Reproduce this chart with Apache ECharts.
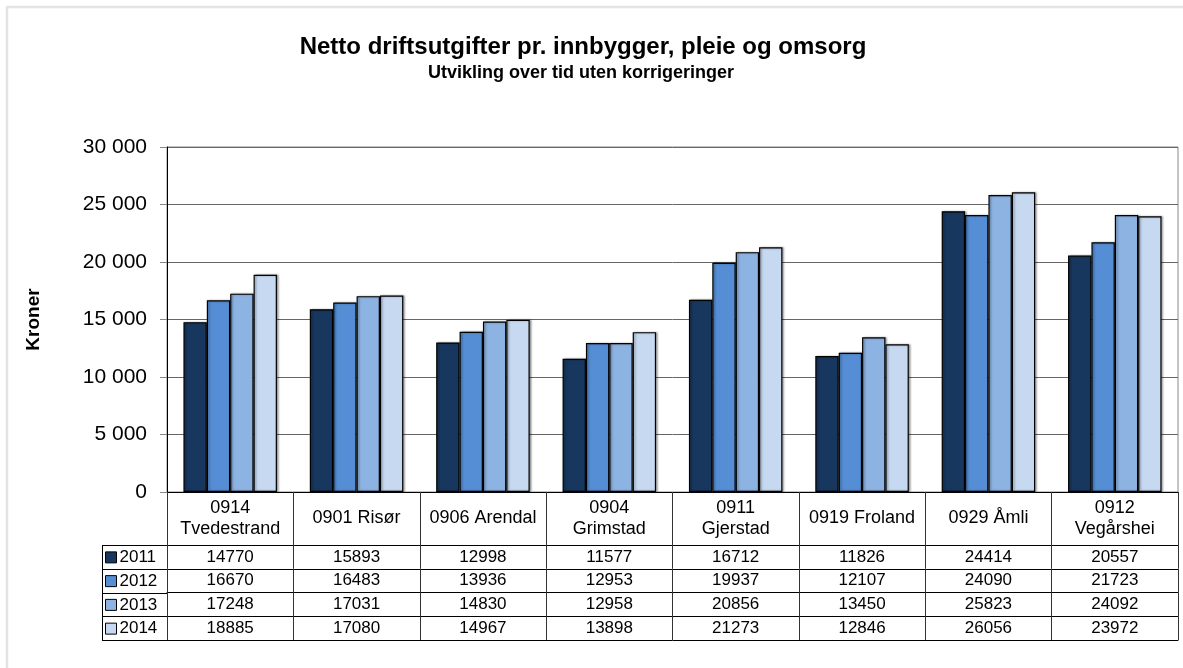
<!DOCTYPE html>
<html>
<head>
<meta charset="utf-8">
<script src="https://cdn.jsdelivr.net/npm/echarts@6/dist/echarts.min.js"></script>
<style>
html,body{margin:0;padding:0;background:#fff;}
#chart{width:1183px;height:668px;}
</style>
</head>
<body>
<div id="chart"></div>
<script>
// ---- data ----
const categories = ['0914\nTvedestrand', '0901 Risør', '0906 Arendal', '0904\nGrimstad', '0911\nGjerstad', '0919 Froland', '0929 Åmli', '0912\nVegårshei'];
const years = ['2011', '2012', '2013', '2014'];
const values2011 = [14770, 15893, 12998, 11577, 16712, 11826, 24414, 20557];
const values2012 = [16670, 16483, 13936, 12953, 19937, 12107, 24090, 21723];
const values2013 = [17248, 17031, 14830, 12958, 20856, 13450, 25823, 24092];
const values2014 = [18885, 17080, 14967, 13898, 21273, 12846, 26056, 23972];
const yTicks = [0, 5000, 10000, 15000, 20000, 25000, 30000];
const seriesValues = [values2011, values2012, values2013, values2014];
const colors = ['#17375E', '#558ED5', '#8DB3E2', '#C6D9F1'];

const FONT = 'Liberation Sans';
const gridLeft = 167, gridRight = 1178, gridTop = 147, gridBottom = 492;
const headerH = 53, rowH = 23.75;

function fmt(v) { return String(v).replace(/\B(?=(\d{3})+(?!\d))/g, ' '); }

const chart = echarts.init(document.getElementById('chart'), null, {renderer: 'canvas'});

const xAxes = [{
  type: 'category',
  data: categories,
  gridIndex: 0,
  position: 'bottom',
  boundaryGap: true,
  axisLine: {show: true, lineStyle: {color: '#000', width: 1}},
  axisTick: {show: true, length: headerH, alignWithLabel: false, lineStyle: {color: '#333', width: 1}},
  axisLabel: {fontFamily: FONT, fontSize: 18, color: '#000', lineHeight: 21, verticalAlign: 'middle', margin: headerH / 2, interval: 0}
}];
seriesValues.forEach(function (vals, k) {
  xAxes.push({
    type: 'category',
    data: vals.map(String),
    gridIndex: 0,
    position: 'bottom',
    offset: headerH + rowH * k,
    boundaryGap: true,
    axisLine: {show: true, lineStyle: {color: '#000', width: 1}},
    axisTick: {show: true, length: rowH, alignWithLabel: false, lineStyle: {color: '#333', width: 1}},
    axisLabel: {fontFamily: FONT, fontSize: 17, color: '#000', verticalAlign: 'middle', margin: rowH / 2, interval: 0},
    splitLine: {show: false}
  });
});
xAxes.push({
  type: 'category',
  data: categories,
  gridIndex: 0,
  position: 'bottom',
  offset: headerH + rowH * 4,
  axisLine: {show: true, lineStyle: {color: '#000', width: 1}},
  axisTick: {show: false},
  axisLabel: {show: false}
});

// left legend-column table lines
const graphics = [{
  type: 'rect', silent: true,
  shape: {x: 7, y: 7, width: 1200, height: 700},
  style: {fill: 'none', stroke: '#e4e4e4', lineWidth: 2.5}
}];
for (let k = 0; k <= 4; k++) {
  const y = Math.round(gridBottom + headerH + rowH * k) + 0.5;
  graphics.push({type: 'line', silent: true, shape: {x1: 102, y1: y, x2: gridLeft, y2: y}, style: {stroke: '#000', lineWidth: 1}});
}
graphics.push({type: 'line', silent: true, shape: {x1: 102.5, y1: gridBottom + headerH, x2: 102.5, y2: gridBottom + headerH + rowH * 4}, style: {stroke: '#000', lineWidth: 1}});

const legendFont = 17;
const option = {
  backgroundColor: '#fff',
  animation: false,
  title: [{
    text: 'Netto driftsutgifter pr. innbygger, pleie og omsorg',
    left: 578, top: 30, textAlign: 'center',
    textStyle: {fontFamily: FONT, fontSize: 24, fontWeight: 'bold', color: '#000'}
  }, {
    text: 'Utvikling over tid uten korrigeringer',
    left: 576, top: 59, textAlign: 'center',
    textStyle: {fontFamily: FONT, fontSize: 18, fontWeight: 'bold', color: '#000'}
  }],
  legend: {
    orient: 'vertical',
    left: 105, top: gridBottom + headerH + (rowH - legendFont) / 2 + 0.5,
    padding: 0,
    itemGap: rowH - legendFont,
    itemWidth: 11, itemHeight: 11,
    icon: 'rect',
    data: years,
    textStyle: {fontFamily: FONT, fontSize: legendFont, color: '#000', padding: [0, 0, 0, -2]},
    itemStyle: {borderColor: '#000', borderWidth: 1}
  },
  grid: {
    left: gridLeft, right: 1183 - gridRight, top: gridTop, bottom: 668 - gridBottom,
    show: true, borderColor: '#888', borderWidth: 1, backgroundColor: 'transparent'
  },
  xAxis: xAxes,
  yAxis: {
    type: 'value',
    min: yTicks[0], max: yTicks[yTicks.length - 1], interval: yTicks[1] - yTicks[0],
    name: 'Kroner', nameLocation: 'middle', nameGap: 124, nameRotate: 90,
    nameTextStyle: {fontFamily: FONT, fontSize: 19, fontWeight: 'bold', color: '#000'},
    axisLine: {show: true, lineStyle: {color: '#000', width: 1}},
    axisTick: {show: true, length: 7, lineStyle: {color: '#888'}},
    axisLabel: {fontFamily: FONT, fontSize: 21, color: '#000', margin: 20, formatter: fmt},
    splitLine: {show: true, lineStyle: {color: '#666', width: 1}}
  },
  series: years.map(function (y, i) {
    return {
      name: y,
      type: 'bar',
      xAxisIndex: 0,
      data: seriesValues[i],
      barGap: '0%',
      barCategoryGap: '26%',
      itemStyle: {color: colors[i], borderColor: '#000', borderWidth: 1.2,
        shadowColor: 'rgba(0,0,0,0.35)', shadowBlur: 2, shadowOffsetX: 1.5, shadowOffsetY: 0}
    };
  }),
  graphic: graphics
};
chart.setOption(option);
</script>
</body>
</html>
